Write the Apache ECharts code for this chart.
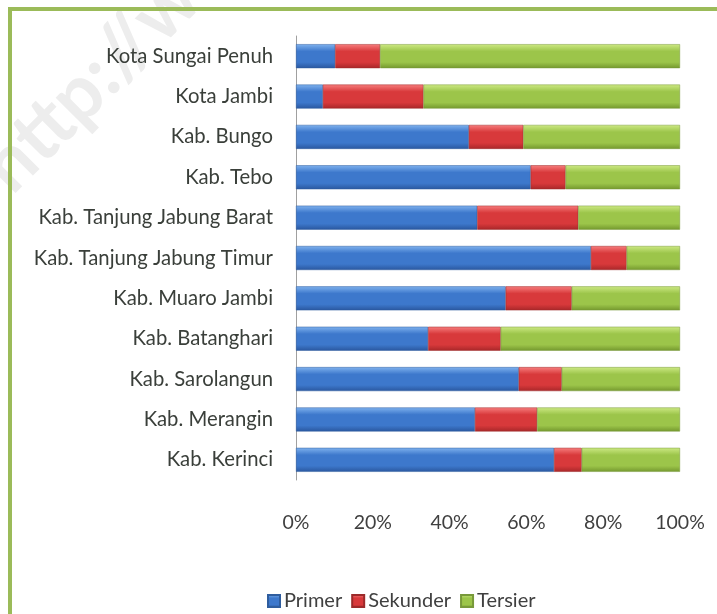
<!DOCTYPE html>
<html>
<head>
<meta charset="utf-8">
<script src="https://cdn.jsdelivr.net/npm/echarts@6/dist/echarts.min.js"></script>
<style>
  html, body { margin: 0; padding: 0; background: #fff; }
  #chart { width: 717px; height: 614px; }
</style>
</head>
<body>
<div id="chart"></div>
<script>
// kabupaten / kota, dari bawah ke atas (urutan sumbu kategori)
var categories = ['Kab. Kerinci', 'Kab. Merangin', 'Kab. Sarolangun', 'Kab. Batanghari',
  'Kab. Muaro Jambi', 'Kab. Tanjung Jabung Timur', 'Kab. Tanjung Jabung Barat',
  'Kab. Tebo', 'Kab. Bungo', 'Kota Jambi', 'Kota Sungai Penuh'];
// persentase per sektor
var primer   = [67.2, 46.6, 58.0, 34.4, 54.6, 76.8, 47.2, 61.1, 45.0, 7.0, 10.2];
var sekunder = [7.2, 16.2, 11.2, 18.9, 17.2, 9.3, 26.3, 9.1, 14.2, 26.2, 11.7];
var tersier  = [25.6, 37.2, 30.8, 46.7, 28.2, 13.9, 26.5, 29.8, 40.8, 66.8, 78.1];
var xTicks = [0, 20, 40, 60, 80, 100];

var font = 'Lato, "Open Sans", sans-serif';

function gloss(top, mid, bottom) {
  return new echarts.graphic.LinearGradient(0, 0, 0, 1, [
    { offset: 0, color: top },
    { offset: 0.3, color: mid },
    { offset: 0.75, color: mid },
    { offset: 1, color: bottom }
  ]);
}

var chart = echarts.init(document.getElementById('chart'));
chart.setOption({
  backgroundColor: '#ffffff',
  animation: false,
  graphic: [
    {
      type: 'text',
      rotation: Math.PI / 4,
      x: -32, y: 152,
      style: { text: 'http://w', font: 'bold 76px ' + font, fill: '#ededed' },
      z: -10
    },
    {
      type: 'rect',
      shape: { x: 10, y: 9, width: 740, height: 640 },
      style: { fill: 'none', stroke: '#9bbb59', lineWidth: 4 },
      z: -5
    }
  ],
  grid: { left: 296, right: 37, top: 36, bottom: 134 },
  legend: {
    left: 262, top: 586,
    itemWidth: 12, itemHeight: 12, itemGap: 9,
    icon: 'rect',
    textStyle: { fontFamily: font, fontSize: 20, color: '#404040', padding: [0, 0, 0, -1] },
    data: ['Primer', 'Sekunder', 'Tersier']
  },
  xAxis: {
    type: 'value',
    min: 0, max: 100, interval: 20,
    axisLine: { show: false },
    axisTick: { show: false },
    splitLine: { show: false },
    axisLabel: {
      margin: 33,
      fontFamily: font, fontSize: 19.5, color: '#404040',
      formatter: function (v) { return xTicks.indexOf(v) >= 0 ? v + '%' : ''; }
    }
  },
  yAxis: {
    type: 'category',
    data: categories,
    axisLine: { show: true, lineStyle: { color: '#a0a0a0', width: 1 } },
    axisTick: { show: false },
    axisLabel: { margin: 23, fontFamily: font, fontSize: 20.3, color: '#3a3f3a' }
  },
  series: [
    {
      name: 'Primer', type: 'bar', stack: 'total', barWidth: 24,
      itemStyle: { color: gloss('#7fb2ee', '#3d78cc', '#2a579f'), borderColor: '#2f5d9e', borderWidth: 0.5 },
      data: primer
    },
    {
      name: 'Sekunder', type: 'bar', stack: 'total', barWidth: 24,
      itemStyle: { color: gloss('#f77e7e', '#d8393b', '#a82729'), borderColor: '#9c2a2a', borderWidth: 0.5 },
      data: sekunder
    },
    {
      name: 'Tersier', type: 'bar', stack: 'total', barWidth: 24,
      itemStyle: { color: gloss('#cde984', '#9cc54a', '#74982e'), borderColor: '#78993a', borderWidth: 0.5 },
      data: tersier
    }
  ]
});
</script>
</body>
</html>
